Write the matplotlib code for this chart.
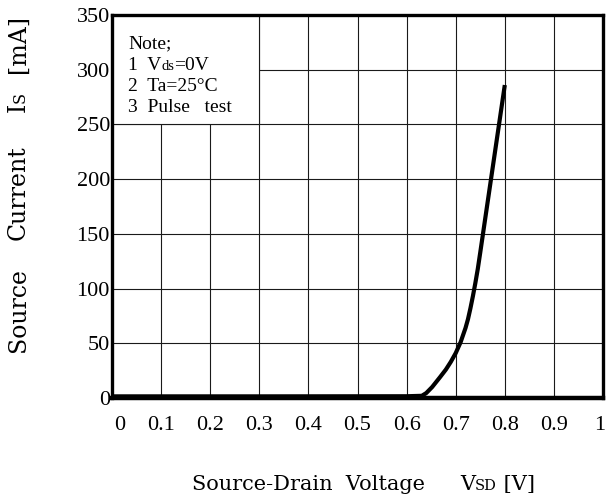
import matplotlib
matplotlib.use("Agg")
import matplotlib.pyplot as plt
import matplotlib.transforms as mtransforms
from matplotlib.patches import Rectangle

# ---- data ----
vsd = [0.0, 0.30, 0.60, 0.631, 0.640, 0.652, 0.668, 0.680, 0.690, 0.700, 0.710, 0.720,
       0.725, 0.730, 0.735, 0.740, 0.745, 0.750, 0.800]
i_s = [1.5, 1.5, 1.6, 2.0, 4.5, 10.0, 19.0, 26.0, 33.0, 41.0, 51.0, 64.0,
       72.0, 82.0, 93.0, 105.0, 118.0, 133.0, 286.0]
x_ticks = [0, 0.1, 0.2, 0.3, 0.4, 0.5, 0.6, 0.7, 0.8, 0.9, 1.0]
x_tick_labels = ["0", "0.1", "0.2", "0.3", "0.4", "0.5", "0.6", "0.7", "0.8", "0.9", "1"]
y_ticks = [0, 50, 100, 150, 200, 250, 300, 350]
y_tick_labels = ["0", "50", "100", "150", "200", "250", "300", "350"]
note_lines = ["Note;", "1  V", "ds", "=0V", "2  Ta=25°C", "3  Pulse   test"]

W, H = 607, 500
fig = plt.figure(figsize=(W / 100, H / 100), dpi=100)
ax = fig.add_axes([112 / W, 1 - 398 / H, (603 - 112) / W, (398 - 15) / H])
ax.set_xlim(0, 1)
ax.set_ylim(0, 350)

ax.set_xticks(x_ticks)
ax.set_xticklabels(x_tick_labels, fontfamily="Liberation Serif", fontsize=16)
ax.set_yticks(y_ticks)
ax.set_yticklabels(y_tick_labels, fontfamily="Liberation Serif", fontsize=16)
ax.tick_params(axis="both", length=0)
ax.tick_params(axis="x", pad=13)
ax.tick_params(axis="y", pad=1.5)
xlabs = ax.get_xticklabels()
xlabs[0].set_transform(xlabs[0].get_transform() + mtransforms.ScaledTranslation(8 / 100, 0, fig.dpi_scale_trans))
xlabs[-1].set_transform(xlabs[-1].get_transform() + mtransforms.ScaledTranslation(-3 / 100, 0, fig.dpi_scale_trans))

ax.grid(True, color="#1a1a1a", linewidth=0.8, zorder=0)
ax.set_axisbelow(True)

for s in ["left", "top", "right"]:
    ax.spines[s].set_linewidth(2.4)
ax.spines["bottom"].set_linewidth(3.2)

ax.add_patch(Rectangle((0, 250), 0.3, 100, facecolor="white", edgecolor="#1a1a1a",
                       linewidth=0.8, zorder=1))

ax.plot(vsd, i_s, color="black", linewidth=3.0, solid_capstyle="butt",
        solid_joinstyle="round", zorder=3)

renderer = fig.canvas.get_renderer()


def fx(px):
    return px / W


def fy(py):
    return 1 - py / H


def chain(pieces, x0, y0, rotation=0):
    x, y = x0, y0
    for txt, size, fam, gap in pieces:
        if rotation == 0:
            t = fig.text(fx(x + gap), fy(y), txt, fontsize=size, fontfamily=fam,
                         ha="left", va="baseline")
            bb = t.get_window_extent(renderer)
            x = x + gap + bb.width
        else:
            t = fig.text(fx(x), fy(y - gap), txt, fontsize=size, fontfamily=fam,
                         ha="left", va="baseline", rotation=90, rotation_mode="anchor")
            bb = t.get_window_extent(renderer)
            y = y - gap - bb.height


nf = "Liberation Serif"
ns = 14
fig.text(fx(128), fy(48), note_lines[0], fontsize=ns, fontfamily=nf, ha="left", va="baseline")
chain([(note_lines[1], ns, nf, 0), (note_lines[2], 10.5, nf, 0), (note_lines[3], ns, nf, 0)], 128, 69.5)
fig.text(fx(128), fy(91), note_lines[4], fontsize=ns, fontfamily=nf, ha="left", va="baseline")
fig.text(fx(128), fy(112), note_lines[5], fontsize=ns, fontfamily=nf, ha="left", va="baseline")

lf = "DejaVu Serif"
chain([("Source-Drain  Voltage", 15, lf, 0)], 192, 490)
chain([("V", 15, lf, 0), ("SD", 10.5, lf, 0), (" [V]", 15, lf, 0)], 460, 490)

ys = 17
chain([("Source", ys, lf, 0)], 25, 352, rotation=90)
chain([("Current", ys, lf, 0)], 25, 240, rotation=90)
chain([("I", ys, lf, 0), ("S", 11.5, lf, 0)], 25, 112, rotation=90)
chain([("[mA]", ys, lf, 0)], 25, 73, rotation=90)

fig.savefig("out.png", dpi=100)
